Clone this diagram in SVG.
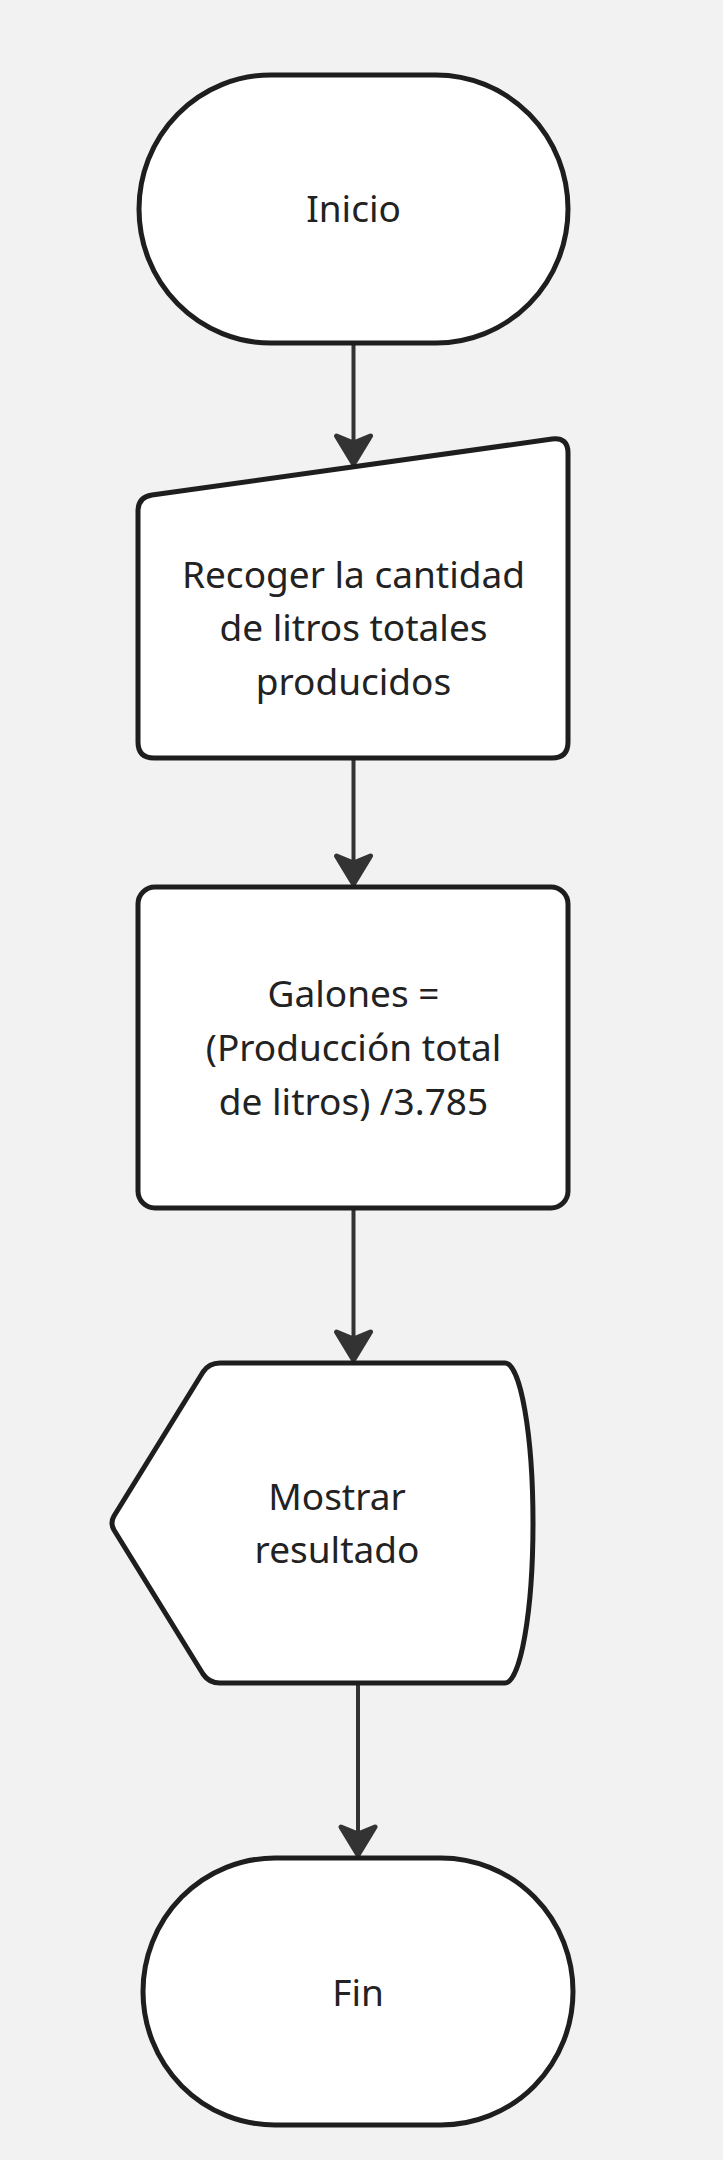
<svg xmlns="http://www.w3.org/2000/svg" width="723" height="2160" viewBox="0 0 723 2160">
<style>
.shape{fill:#ffffff;stroke:#1e1e1e;stroke-width:5;stroke-linejoin:round}
.lbl{font-family:"Noto Sans","Open Sans","DejaVu Sans",sans-serif;font-size:37px;font-weight:400;fill:#222222;text-anchor:middle}
.conn{fill:none;stroke:#333333;stroke-width:4}
</style>
<defs>
<marker id="arr" markerUnits="userSpaceOnUse" viewBox="-40 -26 44 52" markerWidth="44" markerHeight="52" refX="0" refY="0" orient="auto">
<path d="M-3,0 L-31,-17 L-24,0 L-31,17 Z" fill="#333333" stroke="#333333" stroke-width="5" stroke-linejoin="round"/>
</marker>
</defs>
<rect x="0" y="0" width="723" height="2160" fill="#f2f2f2"/>
<g id="connectors">
<path class="conn" d="M353.5,343 L353.5,467" marker-end="url(#arr)"/>
<path class="conn" d="M353.5,758 L353.5,887" marker-end="url(#arr)"/>
<path class="conn" d="M353.5,1208 L353.5,1363" marker-end="url(#arr)"/>
<path class="conn" d="M358,1683 L358,1858" marker-end="url(#arr)"/>
</g>
<g id="inicio">
<rect class="shape" x="139" y="75" width="429" height="268" rx="132" ry="134"/>
<text class="lbl" x="353.5" y="222">Inicio</text>
</g>
<g id="recoger">
<path class="shape" d="M138,511 Q138,497 152,495 L552,439 Q568,437 568,453 L568,742 Q568,758 552,758 L154,758 Q138,758 138,742 Z"/>
<text class="lbl" x="353.5" y="588">Recoger la cantidad</text>
<text class="lbl" x="353.5" y="641">de litros totales</text>
<text class="lbl" x="353.5" y="695">producidos</text>
</g>
<g id="galones">
<rect class="shape" x="138" y="887" width="430" height="321" rx="17" ry="17"/>
<text class="lbl" x="353.5" y="1007">Galones =</text>
<text class="lbl" x="353.5" y="1061">(Producción total</text>
<text class="lbl" x="353.5" y="1115">de litros) /3.785</text>
</g>
<g id="mostrar">
<path class="shape" d="M114,1516 L203,1372 Q209,1363 220,1363 L505,1363 A28,160 0 0 1 505,1683 L220,1683 Q209,1683 203,1674 L114,1530 Q110,1523 114,1516 Z"/>
<text class="lbl" x="337" y="1510">Mostrar</text>
<text class="lbl" x="337" y="1563">resultado</text>
</g>
<g id="fin">
<rect class="shape" x="143" y="1858" width="430" height="267" rx="132" ry="133.5"/>
<text class="lbl" x="358" y="2006">Fin</text>
</g>
</svg>
